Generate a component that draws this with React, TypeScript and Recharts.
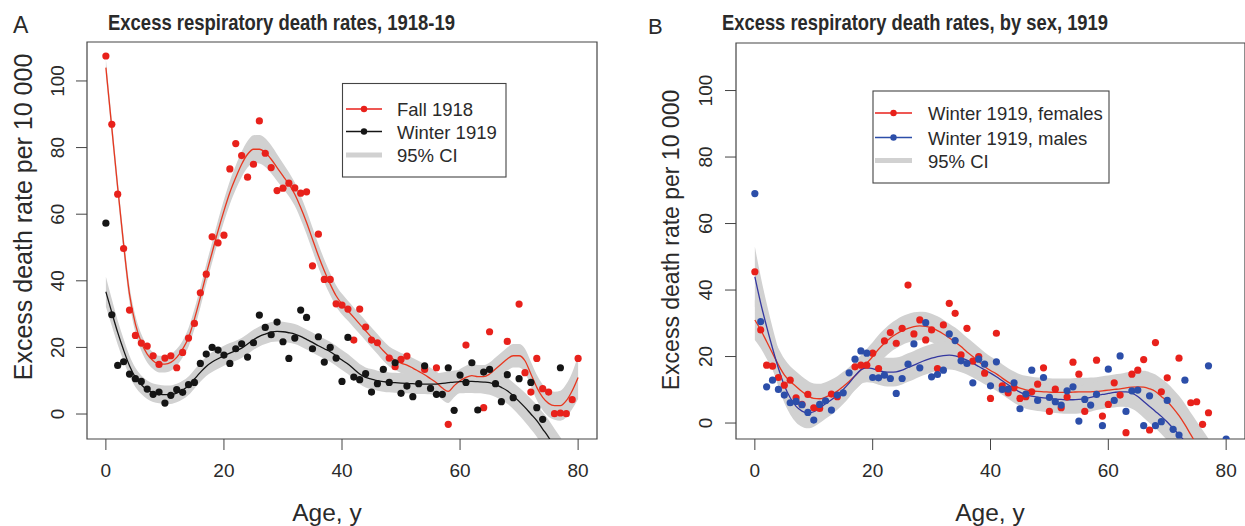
import React from 'react'
import { ComposedChart, XAxis, YAxis, Area, Line, Scatter, ReferenceArea } from 'recharts'

// x grid for the fitted curves (single years of age)
const AGES = Array.from({ length: 81 }, (_, i) => i)
const AGE_TICKS = [0, 20, 40, 60, 80]
const RATE_TICKS = [0, 20, 40, 60, 80, 100]

// ---- Panel A: fall 1918 vs winter 1919 ----
const FALL_1918_FIT = [
  104, 86, 68, 51, 36, 27, 21.5, 18, 16, 15,
  15, 15.5, 17, 19.5, 23, 28.5, 35, 42, 48.5, 55,
  61, 66.5, 71, 75, 78, 79.5, 79.5, 78.5, 76.5, 74,
  71.5, 69, 66, 62, 57.5, 52.5, 47.5, 43, 39, 35.5,
  33, 31, 29, 27, 25, 23, 21, 19, 17.3, 16.2,
  15.3, 14.7, 13.8, 12.8, 11.8, 10.6, 9.4, 7.8, 6.8, 8.5,
  10, 11, 11.5, 11.2, 11.2, 12, 13.5, 15, 16.5, 17.5,
  17.5, 16, 12, 8, 5, 3.2, 2.5, 2.5, 4, 7,
  11,
]
const FALL_1918_CI = [
  2.5, 2.5, 2.5, 2.5, 2.5, 2.5, 2.5, 2.5, 2.5, 2.5,
  2.5, 2.5, 2.5, 2.5, 2.8, 3, 3, 3, 3, 3.2,
  3.3, 3.5, 3.6, 3.8, 4, 4.2, 4.3, 4.3, 4.2, 4,
  3.8, 3.6, 3.5, 3.5, 3.5, 3.5, 3.5, 3.4, 3.3, 3.2,
  3.1, 3, 3, 3, 3, 3, 3, 3, 3, 3,
  3, 3, 3, 3.1, 3.2, 3.3, 3.4, 3.5, 3.5, 3.5,
  3.5, 3.5, 3.5, 3.5, 3.5, 3.5, 3.5, 3.5, 3.5, 3.5,
  3.5, 3.6, 3.7, 3.8, 3.9, 4, 4.2, 4.5, 5, 5.5,
  6.5,
]
const WINTER_1919_FIT = [
  36.7, 30.5, 24.5, 19.2, 14.5, 11, 8.8, 7.3, 6.4, 6,
  5.8, 5.8, 6.3, 7.2, 8.5, 10.5, 12.5, 14.3, 15.6, 16.6,
  17.5, 18.3, 19, 19.8, 21, 22.3, 23.3, 24, 24.6, 24.8,
  24.7, 24.4, 24, 23.3, 22.4, 21.5, 20.5, 19.6, 18.7, 17.5,
  16.2, 15, 13.5, 12, 11, 10.5, 10, 9.7, 9.5, 9.4,
  9.3, 9.2, 9.1, 9, 9, 9, 9, 9.2, 9.4, 9.6,
  9.7, 9.8, 9.8, 9.7, 9.6, 9.4, 8.8, 8, 7, 5.5,
  3.8, 2, 0, -2, -4.5, -7, -10, -13, -16, -19,
  -22,
]
const WINTER_1919_CI = [
  4.5, 4, 3.6, 3.3, 3, 2.9, 2.8, 2.8, 2.8, 2.8,
  2.8, 2.8, 2.8, 2.8, 2.8, 2.8, 2.8, 2.9, 3, 3,
  3, 3, 3, 3, 3, 3, 3, 3, 3, 3,
  3, 3, 3, 3, 3, 3, 3, 3, 3, 3,
  3, 3, 3, 3, 3, 3, 3, 3, 3, 3,
  3, 3, 3, 3, 3, 3.1, 3.2, 3.3, 3.4, 3.5,
  3.5, 3.5, 3.5, 3.5, 3.5, 3.6, 3.7, 3.8, 3.9, 4,
  4.2, 4.4, 4.6, 4.8, 5, 5.3, 5.6, 6, 6.4, 6.8,
  7.2,
]
const FALL_1918_POINTS: [number, number][] = [
  [0, 107.5], [1, 87], [2, 66], [3, 49.7], [4, 31.2], [5, 23.6], [6, 21.3], [7, 20.4],
  [8, 17.5], [9, 14.9], [10, 16.8], [11, 17.5], [12, 13.9], [13, 18.5], [14, 22.8],
  [15, 27.2], [16, 36.4], [17, 42], [18, 53.2], [19, 51.4], [20, 53.7], [21, 73.6],
  [22, 81.2], [23, 77.6], [24, 71.1], [25, 75], [26, 88], [27, 78.3], [28, 74],
  [29, 67.1], [30, 67.8], [31, 69.3], [32, 67.9], [33, 66.3], [34, 66.7], [35, 44.5],
  [36, 54], [37, 40.4], [38, 40.4], [39, 33.1], [40, 32.7], [41, 31.5], [42, 22.2],
  [43, 31.5], [44, 26.1], [45, 22.2], [46, 21.4], [48, 16.8], [49, 14.2], [50, 16.4],
  [51, 17.4], [54, 13.4], [56, 13.9], [58, -3.1], [61, 20.7], [64, 1.9], [65, 24.7],
  [68, 21.8], [70, 33], [71, 12.4], [72, 6.6], [73, 16.7], [74, 7.6], [75, 6.6],
  [76, 0.1], [77, 0.3], [78, 0.1], [79, 4.3], [80, 16.7],
]
const WINTER_1919_POINTS: [number, number][] = [
  [0, 57.3], [1, 29.8], [2, 14.6], [3, 15.7], [4, 12], [5, 10.6], [6, 9.8], [7, 7.5],
  [8, 5.9], [9, 6.6], [10, 3.3], [11, 5.6], [12, 7.3], [13, 6.5], [14, 8.8], [15, 9.5],
  [16, 15.2], [17, 18], [18, 20], [19, 19.2], [20, 17.7], [21, 15.2], [22, 19.6],
  [23, 21.1], [24, 17.1], [25, 21.4], [26, 29.7], [27, 26], [28, 23.8], [29, 27.6],
  [30, 21.7], [31, 16.7], [32, 22.8], [33, 31.2], [34, 29], [35, 19.6], [36, 23.2],
  [37, 15.6], [38, 20], [39, 16.8], [40, 9.8], [41, 23], [42, 11.1], [43, 10.3],
  [44, 12.1], [45, 6.6], [46, 9.1], [47, 13.4], [48, 9.5], [49, 15.4], [50, 6.2],
  [51, 8.4], [52, 5.2], [53, 9.1], [54, 14.5], [55, 7.7], [56, 5.9], [57, 5.9],
  [58, 13.9], [59, 1.1], [60, 11.7], [61, 9.5], [62, 15.4], [63, 1.2], [64, 12.6],
  [65, 13.4], [66, 9.1], [67, 3.7], [68, 11.8], [69, 4.9], [70, 10.6], [72, 9.5],
  [73, 1.9], [74, -1.6], [77, 13.9],
]

// ---- Panel B: winter 1919 by sex ----
const FEMALES_FIT = [
  31, 28, 24.5, 21, 17.5, 14.5, 12.5, 11, 9.5, 8.2,
  7.4, 7.3, 7.8, 8.6, 9.6, 11, 12.5, 14.2, 16, 18,
  20, 22.2, 24, 25.6, 26.8, 27.8, 28.5, 29, 29.2, 29.1,
  28.6, 27.8, 26.8, 25.6, 24.4, 23, 21.4, 20, 18.5, 17,
  15.8, 14.8, 13.5, 12.3, 11.3, 10.5, 10, 9.7, 9.5, 9.4,
  9.3, 9.2, 9.2, 9.2, 9.3, 9.4, 9.4, 9.4, 9.5, 9.7,
  9.9, 10.1, 10.3, 10.6, 10.8, 10.9, 10.8, 10.3, 9.5, 8,
  6.5, 4.5, 2.2, -0.5, -3.5, -6.5, -9.5, -12.5, -15.5, -18.5,
  -21.5,
]
const FEMALES_CI = [
  6, 5.5, 5.2, 5, 5, 4.8, 4.6, 4.5, 4.5, 4.5,
  4.5, 4.5, 4.5, 4.5, 4.5, 4.4, 4.3, 4.3, 4.3, 4.3,
  4.3, 4.3, 4.3, 4.3, 4.3, 4.3, 4.3, 4.3, 4.3, 4.3,
  4.3, 4.3, 4.3, 4.3, 4.3, 4.3, 4.3, 4.3, 4.3, 4.3,
  4.2, 4.2, 4.2, 4.2, 4.2, 4.2, 4.2, 4.2, 4.2, 4.2,
  4.2, 4.2, 4.2, 4.2, 4.2, 4.2, 4.2, 4.3, 4.3, 4.4,
  4.4, 4.5, 4.5, 4.6, 4.7, 4.8, 4.9, 5, 5.1, 5.3,
  5.5, 5.7, 6, 6.3, 6.6, 7, 7.4, 7.8, 8.2, 8.6,
  9,
]
const MALES_FIT = [
  44, 36, 29, 22.5, 16.5, 11.3, 7.6, 5, 3.6, 3,
  3.4, 4.5, 5.8, 7, 8.5, 10.1, 12, 14.2, 16, 16.6,
  16.4, 15.8, 15.4, 15.3, 15.4, 15.9, 16.7, 17.4, 18.2, 18.9,
  19.5, 20, 20.3, 20.4, 20.2, 19.6, 18.9, 18, 17, 16,
  15, 13.9, 12.7, 11.5, 10.3, 9.3, 8.5, 8.1, 7.8, 7.6,
  7.4, 7.2, 7.1, 7, 7, 7.1, 7.3, 7.7, 8.2, 8.6,
  8.9, 9.2, 9.4, 9.4, 9, 8, 6.5, 5, 3.5, 2,
  0.3, -1.6, -3.5, -5.5, -7.5, -9.5, -11.5, -13.5, -15.5, -17.5,
  -19.5,
]
const MALES_CI = [
  9, 8, 7, 6.2, 5.6, 5.2, 5, 4.8, 4.7, 4.6,
  4.5, 4.5, 4.5, 4.5, 4.5, 4.4, 4.3, 4.3, 4.3, 4.3,
  4.3, 4.3, 4.3, 4.3, 4.3, 4.3, 4.3, 4.3, 4.3, 4.3,
  4.3, 4.3, 4.3, 4.3, 4.3, 4.3, 4.3, 4.3, 4.3, 4.3,
  4.2, 4.2, 4.2, 4.2, 4.2, 4.2, 4.2, 4.2, 4.2, 4.2,
  4.2, 4.2, 4.2, 4.2, 4.2, 4.2, 4.2, 4.3, 4.3, 4.4,
  4.4, 4.5, 4.5, 4.6, 4.7, 4.8, 4.9, 5, 5.1, 5.3,
  5.5, 5.7, 6, 6.3, 6.6, 7, 7.4, 7.8, 8.2, 8.6,
  9,
]
const FEMALES_POINTS: [number, number][] = [
  [0, 45.5], [1, 28], [2, 17.4], [3, 17.1], [4, 13.7], [5, 11.4], [6, 12.9], [7, 7.6],
  [8, 5.6], [9, 8.6], [10, 4.6], [11, 4.4], [13, 8.7], [14, 7.9], [17, 16.9], [18, 17.4],
  [19, 17.4], [20, 21], [21, 16.4], [22, 24.7], [23, 27.2], [24, 24], [25, 28.5],
  [26, 41.5], [27, 26.8], [28, 31], [29, 25], [30, 28], [31, 16.4], [32, 29.5], [33, 36],
  [34, 33], [35, 20.5], [36, 28.5], [37, 18.6], [38, 20], [39, 15], [40, 7.4], [41, 27],
  [42, 11.2], [43, 9.1], [44, 10.6], [45, 7.4], [46, 7.9], [47, 9.4], [48, 11.7],
  [49, 16.6], [50, 3.5], [51, 10.2], [52, 4.6], [53, 7.8], [54, 18.3], [55, 14.7],
  [56, 3.5], [58, 18.9], [59, 2.1], [60, 5.6], [61, 12.1], [62, 8.4], [63, -2.9],
  [64, 14.7], [65, 15.9], [66, 19.1], [67, -2.1], [68, 24.2], [69, 9.4], [70, 13.6],
  [72, 19.5], [74, 6.1], [75, 6.4], [76, -0.4], [77, 3.1],
]
const MALES_POINTS: [number, number][] = [
  [0, 69], [1, 30.5], [2, 10.9], [3, 12.9], [4, 10.1], [5, 8.4], [6, 6.1], [7, 6.5],
  [8, 5.5], [9, 3.2], [10, 0.9], [11, 5.6], [12, 6.7], [13, 3.9], [14, 8.4], [15, 9.1],
  [16, 15.1], [17, 19.2], [18, 21.7], [19, 21], [20, 13.7], [21, 13.6], [22, 14.4],
  [23, 13.4], [24, 8.9], [25, 13.4], [26, 17.7], [27, 23.8], [28, 16.6], [29, 30.2],
  [30, 13.9], [31, 14.6], [32, 15.9], [33, 26.8], [34, 24.8], [35, 18.7], [36, 17.9],
  [37, 12.1], [38, 19.2], [39, 17.7], [40, 11.2], [41, 18.4], [42, 10.1], [43, 10.2],
  [44, 12.1], [45, 4.3], [46, 8.7], [47, 15.9], [48, 6.8], [49, 13.7], [50, 7.7],
  [51, 6.4], [52, 5.4], [53, 9.7], [54, 10.9], [55, 0.6], [56, 7.1], [57, 5.4],
  [58, 8.6], [59, -0.8], [60, 16.2], [61, 6.8], [62, 20.2], [63, 3.5], [64, 9.7],
  [65, 9.9], [66, -0.8], [67, 8.2], [68, -0.8], [69, 0.4], [70, 6.8], [71, -1.9],
  [72, -3.6], [73, 12.9], [77, 17.2], [80, -4.8],
]

const X_DOMAIN: [number, number] = [-3.2, 83.2]
const Y_DOMAIN_A: [number, number] = [-7.5, 111.7]
const Y_DOMAIN_B: [number, number] = [-4.8, 114.3]

const RED_PT = '#e8211b'
const RED_LINE = '#e8371f'
const BLACK = '#151515'
const BLUE_PT = '#2c4ea9'
const BLUE_LINE = '#3438a0'
const BAND = '#d1d1d1'
const INK = '#2a2a2a'
const FONT = '"Liberation Sans", Arial, Helvetica, sans-serif'

type Series = { key: string; fit: number[]; ci: number[]; points: [number, number][]; pt: string; line: string }

function buildRows(series: Series[]) {
  return AGES.map((age, i) => {
    const row: any = { age }
    series.forEach((s) => {
      row[s.key] = s.fit[i]
      row[s.key + 'Band'] = [s.fit[i] - s.ci[i], s.fit[i] + s.ci[i]]
    })
    return row
  })
}

const XTick = (props: any) => (
  <text x={props.x} y={props.y} dy="0.71em" textAnchor="middle" fontSize={19} fill={INK} fontFamily={FONT}>
    {props.payload.value}
  </text>
)

// R draws y tick labels parallel to the axis
const YTick = (props: any) => (
  <text
    x={props.x}
    y={props.y}
    transform={`rotate(-90 ${props.x} ${props.y})`}
    textAnchor="middle"
    fontSize={19}
    fill={INK}
    fontFamily={FONT}
  >
    {props.payload.value}
  </text>
)

function Panel({ series, yDomain, width, yAxisWidth, top, right, tickMargin }: {
  series: Series[]; yDomain: [number, number]; width: number; yAxisWidth: number; top: number; right: number; tickMargin: number
}) {
  const rows = buildRows(series)
  return (
    <ComposedChart width={width} height={526} data={rows} margin={{ top, right, bottom: 0, left: 0 }}>
      <XAxis
        type="number"
        dataKey="age"
        domain={X_DOMAIN}
        ticks={AGE_TICKS}
        allowDataOverflow
        height={87}
        axisLine={false}
        tickLine={{ stroke: '#444' }}
        tickSize={11}
        tickMargin={14}
        tick={<XTick />}
      />
      <YAxis
        type="number"
        domain={yDomain}
        ticks={RATE_TICKS}
        allowDataOverflow
        width={yAxisWidth}
        axisLine={false}
        tickLine={{ stroke: '#444' }}
        tickSize={11}
        tickMargin={tickMargin}
        tick={<YTick />}
      />
      {series.map((s) => (
        <Area
          key={s.key + 'Band'}
          type="monotone"
          dataKey={s.key + 'Band'}
          stroke="none"
          fill={BAND}
          fillOpacity={1}
          isAnimationActive={false}
          activeDot={false}
        />
      ))}
      {series.map((s) => (
        <Scatter
          key={s.key + 'Pts'}
          data={s.points.map(([age, v]) => ({ age, v }))}
          dataKey="v"
          isAnimationActive={false}
          shape={(p: any) => <circle cx={p.cx} cy={p.cy} r={3.6} fill={s.pt} />}
        />
      ))}
      {series.map((s) => (
        <Line
          key={s.key + 'Fit'}
          type="monotone"
          dataKey={s.key}
          stroke={s.line}
          strokeWidth={1.3}
          dot={false}
          activeDot={false}
          isAnimationActive={false}
        />
      ))}
      <ReferenceArea
        x1={X_DOMAIN[0]}
        x2={X_DOMAIN[1]}
        y1={yDomain[0]}
        y2={yDomain[1]}
        fill="none"
        stroke="#444"
        strokeWidth={1.2}
        ifOverflow="visible"
      />
    </ComposedChart>
  )
}

function LegendBox({ x, y, w, h, rows, textX, segX, items }: {
  x: number; y: number; w: number; h: number; rows: number[]; textX: number; segX: [number, number]; items: { label: string; color: string | null }[]
}) {
  return (
    <g>
      <rect x={x} y={y} width={w} height={h} fill="white" stroke="#444" strokeWidth={1.1} />
      {items.map((it, i) => (
        <g key={it.label}>
          {it.color ? (
            <>
              <line x1={segX[0]} x2={segX[1]} y1={rows[i]} y2={rows[i]} stroke={it.color} strokeWidth={1.3} />
              <circle cx={(segX[0] + segX[1]) / 2} cy={rows[i]} r={3.2} fill={it.color} />
            </>
          ) : (
            <line x1={segX[0]} x2={segX[1]} y1={rows[i]} y2={rows[i]} stroke={BAND} strokeWidth={5} />
          )}
          <text x={textX} y={rows[i] + 7} fontSize={18.5} fill={INK} fontFamily={FONT}>{it.label}</text>
        </g>
      ))}
    </g>
  )
}

export default function App() {
  const seriesA: Series[] = [
    { key: 'fall', fit: FALL_1918_FIT, ci: FALL_1918_CI, points: FALL_1918_POINTS, pt: RED_PT, line: RED_LINE },
    { key: 'winter', fit: WINTER_1919_FIT, ci: WINTER_1919_CI, points: WINTER_1919_POINTS, pt: BLACK, line: BLACK },
  ]
  const seriesB: Series[] = [
    { key: 'females', fit: FEMALES_FIT, ci: FEMALES_CI, points: FEMALES_POINTS, pt: RED_PT, line: RED_LINE },
    { key: 'males', fit: MALES_FIT, ci: MALES_CI, points: MALES_POINTS, pt: BLUE_PT, line: BLUE_LINE },
  ]

  return (
    <div style={{ position: 'absolute', left: 0, top: 0, width: 1245, height: 526, background: 'white', overflow: 'hidden', fontFamily: FONT }}>
      <div style={{ position: 'absolute', left: 0, top: 0 }}>
        <Panel series={seriesA} yDomain={Y_DOMAIN_A} width={610} yAxisWidth={87} top={42} right={13} tickMargin={12} />
      </div>
      <div style={{ position: 'absolute', left: 640, top: 0 }}>
        <Panel series={seriesB} yDomain={Y_DOMAIN_B} width={605} yAxisWidth={96} top={43} right={0} tickMargin={13} />
      </div>
      <svg width={1245} height={526} style={{ position: 'absolute', left: 0, top: 0, pointerEvents: 'none' }} fontFamily={FONT}>
        <text x={13} y={33} fontSize={23} fill={INK}>A</text>
        <text x={108} y={30} fontSize={21.5} fontWeight="bold" fill={INK} textLength={347} lengthAdjust="spacingAndGlyphs">
          Excess respiratory death rates, 1918-19
        </text>
        <text x={648} y={34} fontSize={22} fill={INK}>B</text>
        <text x={722} y={30} fontSize={21.5} fontWeight="bold" fill={INK} textLength={386} lengthAdjust="spacingAndGlyphs">
          Excess respiratory death rates, by sex, 1919
        </text>

        <text x={32} y={217} transform="rotate(-90 32 217)" fontSize={25} fill={INK} textAnchor="middle">
          Excess death rate per 10 000
        </text>
        <text x={679} y={240} transform="rotate(-90 679 240)" fontSize={23} fill={INK} textAnchor="middle">
          Excess death rate per 10 000
        </text>
        <text x={327} y={521} fontSize={24.5} fill={INK} textAnchor="middle">Age, y</text>
        <text x={990} y={521} fontSize={24.5} fill={INK} textAnchor="middle">Age, y</text>

        <LegendBox
          x={342.5} y={83.5} w={163.5} h={93.5}
          rows={[109, 131.5, 155]}
          textX={397}
          segX={[346, 382]}
          items={[
            { label: 'Fall 1918', color: RED_PT },
            { label: 'Winter 1919', color: BLACK },
            { label: '95% CI', color: null },
          ]}
        />
        <LegendBox
          x={873} y={91} w={236} h={92}
          rows={[113, 137.5, 160.5]}
          textX={928}
          segX={[875, 912]}
          items={[
            { label: 'Winter 1919, females', color: RED_PT },
            { label: 'Winter 1919, males', color: BLUE_PT },
            { label: '95% CI', color: null },
          ]}
        />
      </svg>
    </div>
  )
}
